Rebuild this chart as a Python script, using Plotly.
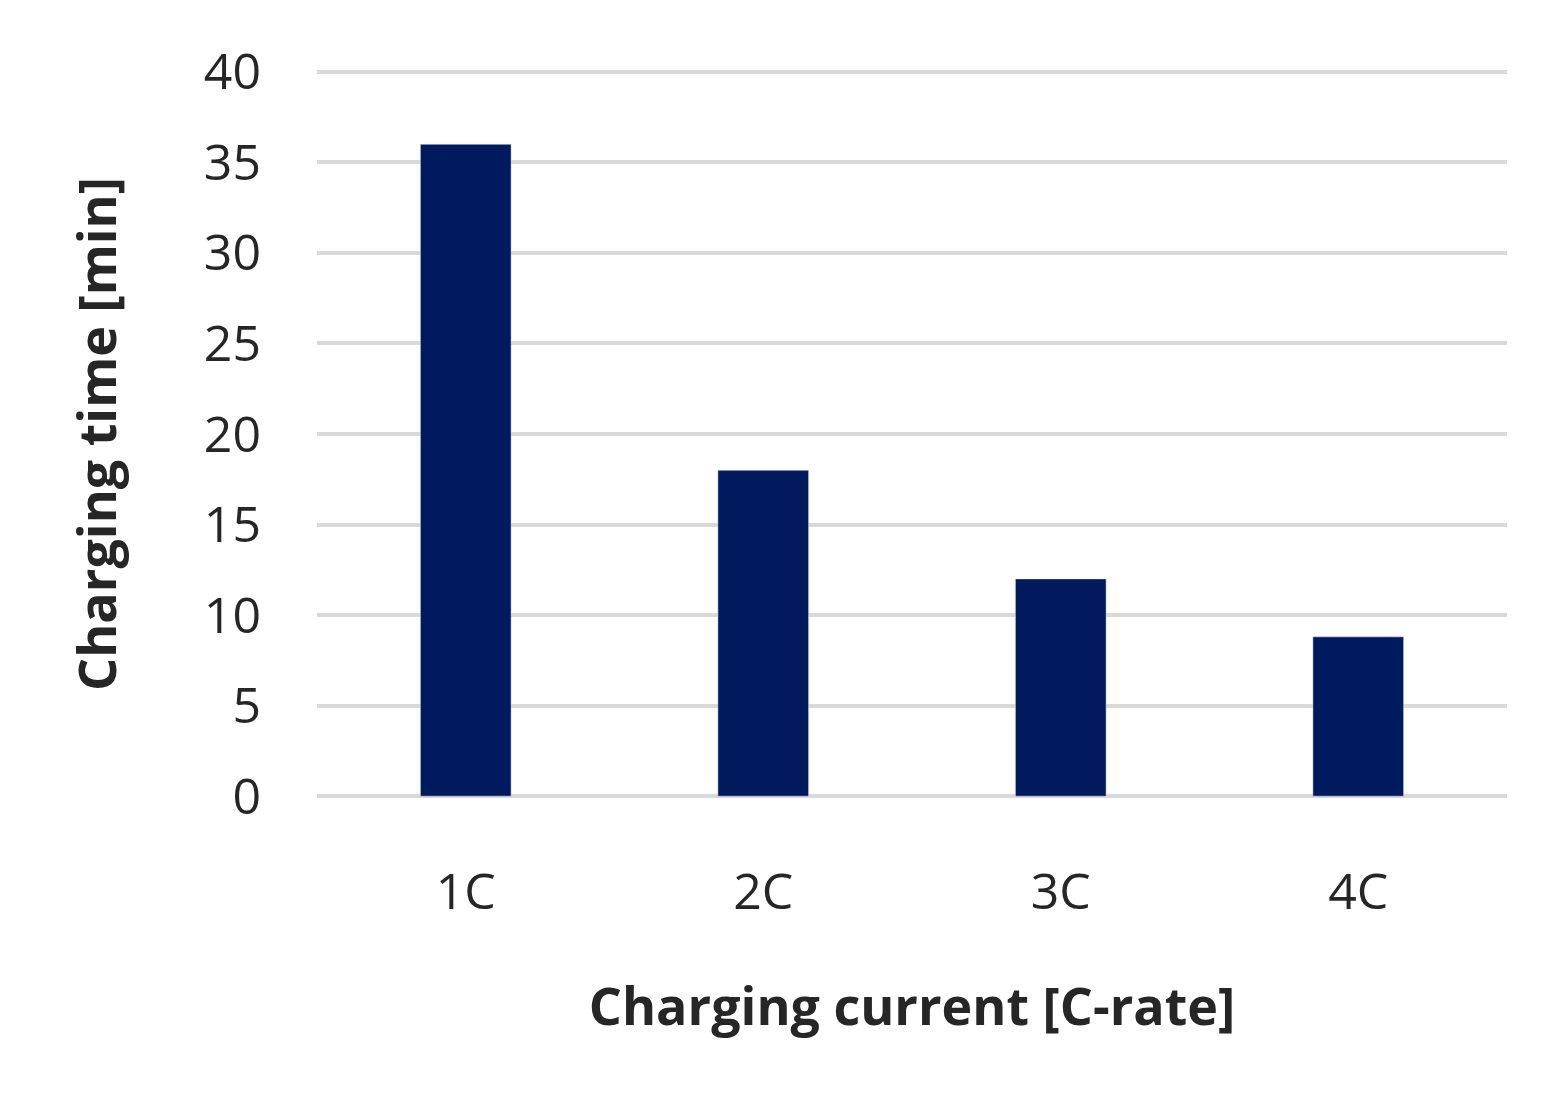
import plotly.graph_objects as go

categories = ["1C", "2C", "3C", "4C"]
values = [36, 18, 12, 8.8]
y_ticks = [0, 5, 10, 15, 20, 25, 30, 35, 40]

fig = go.Figure(go.Bar(x=categories, y=values, marker_color="#001A5E", width=0.305))
fig.update_layout(
    width=1554, height=1109,
    margin=dict(l=309, r=55, t=62, b=319),
    plot_bgcolor="white", paper_bgcolor="white",
    font=dict(family="Open Sans, Liberation Sans", color="#262626"),
    showlegend=False,
)
fig.update_yaxes(range=[-0.1, 40.1], tickvals=y_ticks, gridcolor="#d9d9d9", gridwidth=4,
                 zeroline=True, zerolinecolor="#d9d9d9", zerolinewidth=4,
                 showline=False, ticks="", tickfont=dict(size=50),
                 ticklabelstandoff=55,
                 title=dict(text="<b>Charging time [min]</b>", font=dict(size=52, color="#262626"), standoff=70))
fig.update_xaxes(showline=False, ticks="", tickfont=dict(size=50), ticklabelstandoff=60,
                 title=dict(text="<b>Charging current [C-rate]</b>", font=dict(size=52, color="#262626"), standoff=65))
fig.write_html("out.html")
